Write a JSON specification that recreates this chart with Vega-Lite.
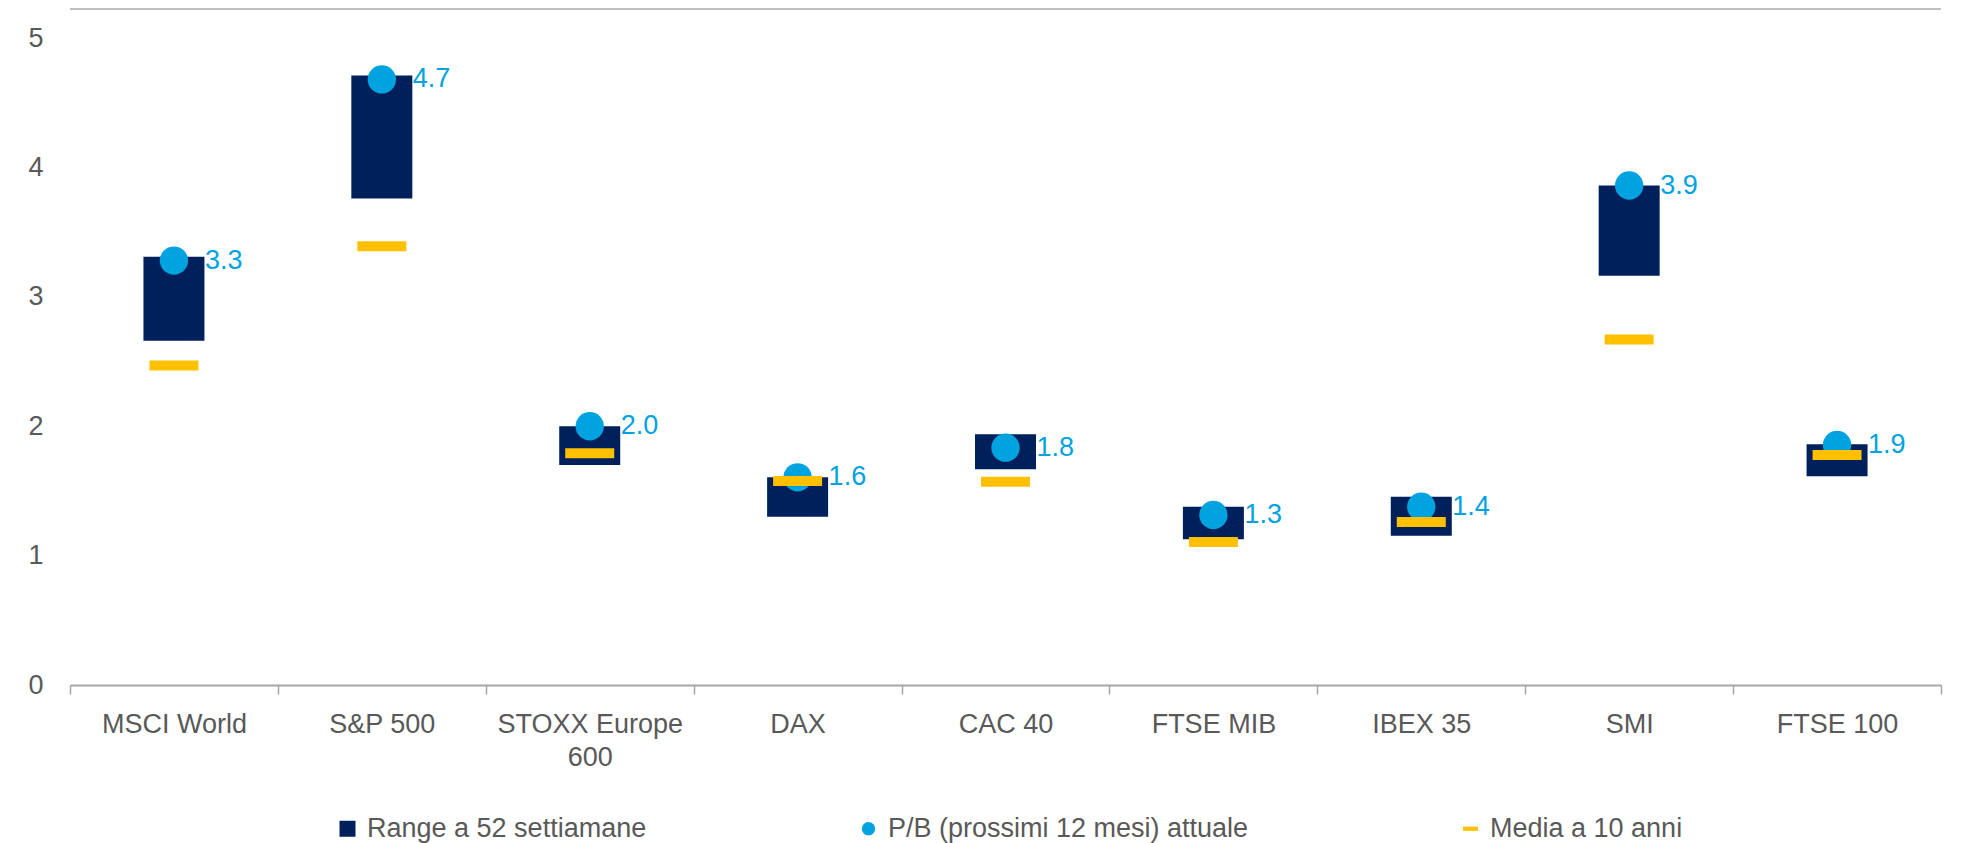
{
  "$schema": "https://vega.github.io/schema/vega-lite/v6.json",
  "autosize": {"type": "none"},
  "padding": {"left": 70, "top": 38, "right": 32, "bottom": 158},
  "width": 1871,
  "height": 647,
  "background": "white",
  "config": {
    "view": {"stroke": null},
    "font": "Liberation Sans",
    "axis": {"labelFont": "Liberation Sans", "labelFontSize": 27, "labelColor": "#595959", "title": null, "grid": false, "labelLimit": 0},
    "legend": {"labelFont": "Liberation Sans", "labelLimit": 0}
  },
  "data": {
    "values": [
      {"indice": "MSCI World", "min": 2.66, "max": 3.31, "attuale": 3.28, "media": 2.47, "etichetta": "3.3"},
      {"indice": "S&P 500", "min": 3.76, "max": 4.71, "attuale": 4.68, "media": 3.39, "etichetta": "4.7"},
      {"indice": "STOXX Europe 600", "min": 1.70, "max": 2.00, "attuale": 2.00, "media": 1.79, "etichetta": "2.0"},
      {"indice": "DAX", "min": 1.30, "max": 1.605, "attuale": 1.605, "media": 1.577, "etichetta": "1.6"},
      {"indice": "CAC 40", "min": 1.667, "max": 1.937, "attuale": 1.834, "media": 1.57, "etichetta": "1.8"},
      {"indice": "FTSE MIB", "min": 1.126, "max": 1.378, "attuale": 1.314, "media": 1.105, "etichetta": "1.3"},
      {"indice": "IBEX 35", "min": 1.154, "max": 1.455, "attuale": 1.378, "media": 1.26, "etichetta": "1.4"},
      {"indice": "SMI", "min": 3.163, "max": 3.86, "attuale": 3.86, "media": 2.67, "etichetta": "3.9"},
      {"indice": "FTSE 100", "min": 1.613, "max": 1.86, "attuale": 1.855, "media": 1.777, "etichetta": "1.9"}
    ]
  },
  "encoding": {
    "x": {
      "field": "indice", "type": "nominal", "sort": null,
      "scale": {"paddingInner": 0, "paddingOuter": 0},
      "axis": {
        "labelAngle": 0,
        "domainColor": "#a6a6a6", "domainWidth": 2,
        "tickColor": "#a6a6a6", "tickWidth": 1.5, "tickSize": 9, "tickBand": "extent",
        "labelPadding": 17, "labelLineHeight": 33, "labelBaseline": "top",
        "labelExpr": "datum.value == 'STOXX Europe 600' ? ['STOXX Europe', '600'] : datum.value"
      }
    }
  },
  "layer": [
    {
      "mark": {"type": "rule", "color": "#bfbfbf", "strokeWidth": 2},
      "encoding": {"x": null, "y": {"datum": 5.224, "type": "quantitative"}}
    },
    {
      "mark": {"type": "bar", "width": 61},
      "encoding": {
        "y": {"field": "min", "type": "quantitative", "scale": {"domain": [0, 5]},
              "axis": {"values": [0, 1, 2, 3, 4, 5], "format": "d", "ticks": false, "domain": false, "labelPadding": 27}},
        "y2": {"field": "max"},
        "color": {"datum": "Range a 52 settiamane", "type": "nominal",
          "scale": {"domain": ["Range a 52 settiamane", "P/B (prossimi 12 mesi) attuale", "Media a 10 anni"],
                    "range": ["#00205b", "#00a3e0", "#ffc000"]},
          "legend": {
            "title": null, "orient": "none", "direction": "horizontal",
            "legendX": 264, "legendY": 777, "padding": 0,
            "labelFontSize": 27, "labelColor": "#595959", "labelOffset": 6,
            "columnPadding": 208, "symbolSize": 256, "symbolStrokeWidth": 0,
            "encode": {"symbols": {"update": {
              "shape": {"signal": "datum.value == 'Range a 52 settiamane' ? 'square' : datum.value == 'Media a 10 anni' ? 'M-1,-0.28H1V0.28H-1Z' : 'circle'"},
              "size": {"signal": "datum.value == 'Range a 52 settiamane' ? 256 : datum.value == 'Media a 10 anni' ? 225 : 180"}
            }}}
          }
        }
      }
    },
    {
      "mark": {"type": "point", "filled": true, "shape": "circle", "size": 804, "opacity": 1},
      "encoding": {
        "y": {"field": "attuale", "type": "quantitative"},
        "color": {"datum": "P/B (prossimi 12 mesi) attuale", "type": "nominal"}
      }
    },
    {
      "mark": {"type": "tick", "size": 49, "thickness": 10, "opacity": 1},
      "encoding": {
        "y": {"field": "media", "type": "quantitative"},
        "color": {"datum": "Media a 10 anni", "type": "nominal"}
      }
    },
    {
      "mark": {"type": "text", "align": "left", "baseline": "middle", "dx": 31, "fontSize": 27, "color": "#00a3e0"},
      "encoding": {
        "y": {"field": "attuale", "type": "quantitative"},
        "text": {"field": "etichetta", "type": "nominal"}
      }
    }
  ]
}
